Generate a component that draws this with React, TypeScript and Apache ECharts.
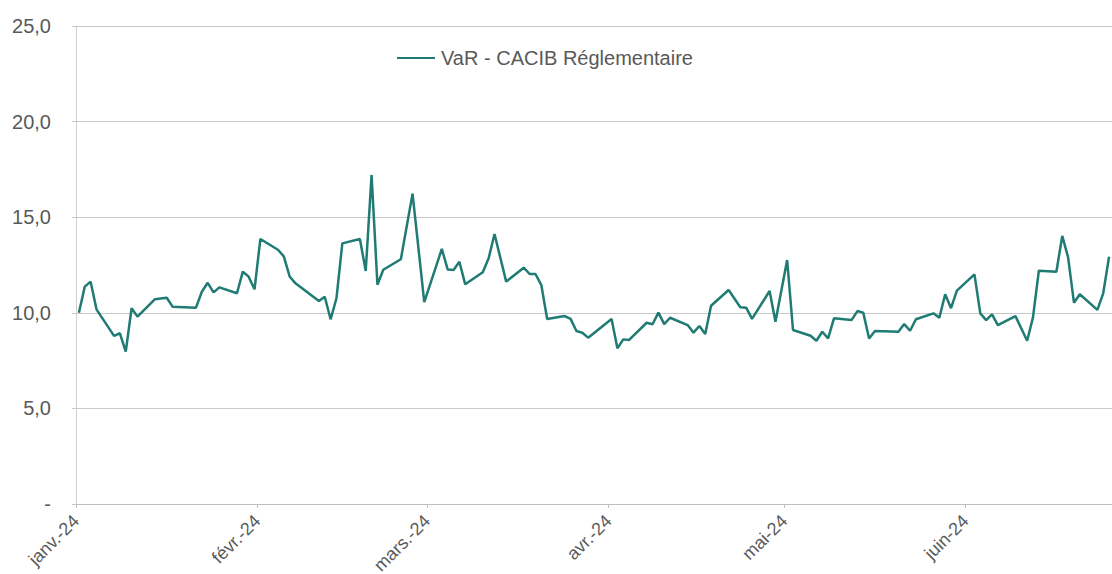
import React, { useEffect, useRef } from "react";
import * as echarts from "echarts";

const seriesName = "VaR - CACIB Réglementaire";

const dates = [
  "2024-01-01", "2024-01-02", "2024-01-03", "2024-01-04", "2024-01-07", "2024-01-08", "2024-01-09", "2024-01-10", "2024-01-11", "2024-01-14", "2024-01-16", "2024-01-17", "2024-01-21", "2024-01-22", "2024-01-23", "2024-01-24", "2024-01-25", "2024-01-28", "2024-01-29", "2024-01-30", "2024-01-31",
  "2024-02-01", "2024-02-04", "2024-02-05", "2024-02-06", "2024-02-07", "2024-02-11", "2024-02-12", "2024-02-13", "2024-02-14", "2024-02-15", "2024-02-18", "2024-02-19", "2024-02-20", "2024-02-21", "2024-02-22", "2024-02-25", "2024-02-27", "2024-02-29",
  "2024-03-03", "2024-03-04", "2024-03-05", "2024-03-06", "2024-03-07", "2024-03-10", "2024-03-11", "2024-03-12", "2024-03-14", "2024-03-17", "2024-03-18", "2024-03-19", "2024-03-20", "2024-03-21", "2024-03-24", "2024-03-25", "2024-03-26", "2024-03-27", "2024-03-28",
  "2024-04-01", "2024-04-02", "2024-04-03", "2024-04-04", "2024-04-07", "2024-04-08", "2024-04-09", "2024-04-10", "2024-04-11", "2024-04-14", "2024-04-15", "2024-04-16", "2024-04-17", "2024-04-18", "2024-04-21", "2024-04-23", "2024-04-24", "2024-04-25", "2024-04-28", "2024-04-29",
  "2024-05-01", "2024-05-02", "2024-05-05", "2024-05-06", "2024-05-07", "2024-05-08", "2024-05-09", "2024-05-12", "2024-05-13", "2024-05-14", "2024-05-15", "2024-05-16", "2024-05-20", "2024-05-21", "2024-05-22", "2024-05-23", "2024-05-26", "2024-05-27", "2024-05-28", "2024-05-29", "2024-05-30",
  "2024-06-02", "2024-06-03", "2024-06-04", "2024-06-05", "2024-06-06", "2024-06-09", "2024-06-11", "2024-06-12", "2024-06-13", "2024-06-16", "2024-06-17", "2024-06-18", "2024-06-19", "2024-06-20", "2024-06-23", "2024-06-24", "2024-06-25",
];

const varValues = [
  10.0, 11.37, 11.63, 10.18, 8.79, 8.93, 7.97, 10.24, 9.8, 10.71, 10.79, 10.32, 10.27, 11.1, 11.57, 11.07, 11.33, 11.02, 12.15, 11.89, 11.23,
  13.86, 13.3, 12.95, 11.9, 11.54, 10.62, 10.84, 9.66, 10.76, 13.63, 13.86, 12.19, 17.21, 11.47, 12.25, 12.8, 16.23, 10.56,
  13.34, 12.27, 12.24, 12.67, 11.49, 12.12, 12.85, 14.12, 11.63, 12.36, 12.03, 12.03, 11.45, 9.68, 9.83, 9.68, 9.05, 8.96, 8.7,
  9.68, 8.14, 8.61, 8.58, 9.48, 9.4, 10.01, 9.41, 9.74, 9.36, 8.96, 9.31, 8.89, 10.37, 11.19, 10.29, 10.27, 9.68, 11.14, 9.53,
  12.76, 9.1, 8.8, 8.54, 9.01, 8.66, 9.71, 9.62, 10.09, 10.01, 8.66, 9.05, 9.01, 9.41, 9.06, 9.66, 9.97, 9.74, 10.97, 10.24, 11.16,
  12.01, 9.97, 9.62, 9.92, 9.36, 9.83, 8.54, 9.76, 12.2, 12.15, 14.02, 12.9, 10.53, 10.97, 10.15, 11.02, 12.93,
];

const monthStarts = ["2024-01-01", "2024-02-01", "2024-03-01", "2024-04-01", "2024-05-01", "2024-06-01"];
const monthLabels = ["janv.-24", "févr.-24", "mars.-24", "avr.-24", "mai-24", "juin-24"];
const axisStart = "2024-01-01";
const axisEnd = "2024-06-26";

const yTicks = [0, 5, 10, 15, 20, 25];

function toTime(s: string, hour = 0): number {
  const [y, m, d] = s.split("-").map(Number);
  return new Date(y, m - 1, d, hour).getTime();
}

const FONT = "'Liberation Sans', Arial, Helvetica, sans-serif";

export default function App() {
  const ref = useRef<HTMLDivElement>(null);

  useEffect(() => {
    if (!ref.current) return;
    const chart = echarts.init(ref.current, undefined, { renderer: "svg" });
    const tickTimes = monthStarts.map((s) => toTime(s));
    // Excel date axis: each day's point sits in the middle of its day slot
    const points = dates.map((d, i) => [toTime(d, 12), varValues[i]]);

    chart.setOption({
      animation: false,
      backgroundColor: "#ffffff",
      textStyle: { fontFamily: FONT },
      legend: {
        left: 392,
        top: 43,
        itemWidth: 38,
        itemHeight: 20,
        icon: "path://M0,9 L38,9 L38,11 L0,11 Z",
        textStyle: { fontSize: 20, color: "#595959", fontFamily: FONT, padding: [0, 0, 0, 1] },
        data: [seriesName],
      },
      grid: { left: 76, right: 0, top: 26, bottom: 70, containLabel: false, outerBoundsMode: "none" },
      xAxis: {
        type: "value",
        min: toTime(axisStart),
        max: toTime(axisEnd),
        axisLine: { show: true, lineStyle: { color: "#bfbfbf", width: 1 } },
        axisTick: {
          show: true,
          length: 4,
          customValues: tickTimes,
          lineStyle: { color: "#bfbfbf" },
        },
        axisLabel: {
          customValues: tickTimes,
          rotate: 45,
          margin: 14,
          fontSize: 18,
          color: "#595959",
          fontFamily: FONT,
          showMinLabel: true,
          hideOverlap: false,
          formatter: (v: number) => {
            const idx = tickTimes.indexOf(v);
            if (idx >= 0) return monthLabels[idx];
            return monthLabels[new Date(v).getMonth()] || "";
          },
        },
        splitLine: { show: false },
      },
      yAxis: {
        type: "value",
        min: yTicks[0],
        max: yTicks[yTicks.length - 1],
        interval: 5,
        axisLine: { show: true, lineStyle: { color: "#d0d0d0", width: 1 } },
        axisTick: { show: true, length: 4, lineStyle: { color: "#c8c8c8" } },
        axisLabel: {
          margin: 25,
          fontSize: 20,
          color: "#595959",
          fontFamily: FONT,
          formatter: (v: number) => (v === 0 ? "-" : v.toFixed(1).replace(".", ",")),
        },
        splitLine: { show: true, lineStyle: { color: "#c8c8c8", width: 1 } },
      },
      series: [
        {
          name: seriesName,
          type: "line",
          data: points,
          symbol: "none",
          showSymbol: false,
          clip: true,
          lineStyle: { color: "#1f7b73", width: 2.5 },
          itemStyle: { color: "#1f7b73" },
        },
      ],
    });

    return () => chart.dispose();
  }, []);

  return (
    <div
      ref={ref}
      style={{ position: "absolute", left: 0, top: 0, width: 1112, height: 574 }}
    />
  );
}
